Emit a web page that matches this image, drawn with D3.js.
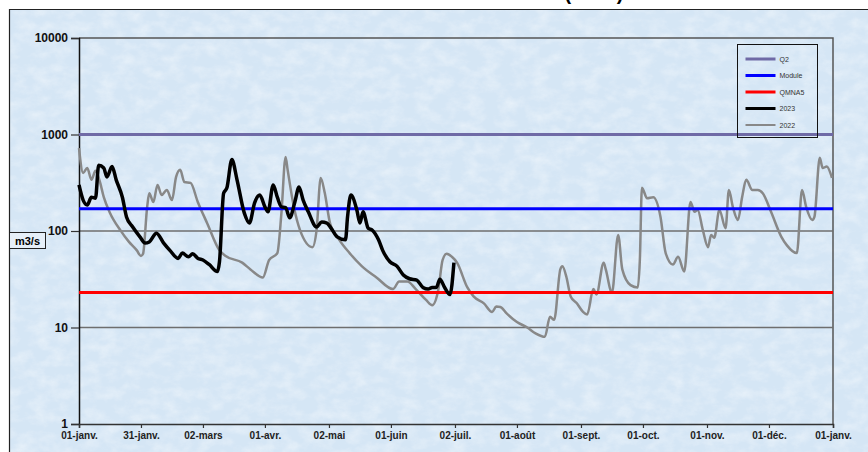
<!DOCTYPE html>
<html>
<head>
<meta charset="utf-8">
<script src="https://cdn.jsdelivr.net/npm/d3@7"></script>
<style>
  body { margin: 0; background: #fff; }
  text { font-family: "Liberation Sans", Arial, sans-serif; }
</style>
</head>
<body>
<div id="CHART"></div>
<script>
// ------------------------- data ------------------------//

var tickDays = [0, 30, 60, 90, 121, 151, 182, 212, 243, 273, 304, 334, 365];
var tickLabels = ["01-janv.", "31-janv.", "02-mars", "01-avr.", "02-mai", "01-juin", "02-juil.",
  "01-août", "01-sept.", "01-oct.", "01-nov.", "01-déc.", "01-janv."];
var yTicks = [1, 10, 100, 1000, 10000];

// reference flows (m3/s)
var q2 = 1000, module = 170, qmna5 = 23;

// 2022 daily flows
var days2022 = [0, 2, 4, 6, 8, 10, 12, 15, 20, 24, 28, 30, 31, 33, 34, 36, 38, 40, 42.5, 45,
  47, 49, 51, 54, 57.5, 62, 68, 71, 79, 83, 89, 92, 96, 98, 100, 101, 104, 107, 113, 115,
  117, 119, 121.5, 126, 131, 137, 144, 152, 155, 159, 163, 168, 171, 174, 176, 178, 180.5, 183, 188, 191,
  196, 200, 202, 204, 207, 212, 217, 221, 225.5, 228, 230, 233, 234, 236, 238, 241, 244, 246, 249, 250.5,
  254, 255, 258, 261, 263, 267, 270.5, 271.5, 272.5, 275, 278, 281.5, 284, 287.5, 290, 293, 296, 298, 299.5, 302,
  304.5, 306, 307.5, 310, 313, 314.6, 316.5, 319, 321, 323, 326, 328.6, 331, 335, 340, 342.7, 347.5, 350, 352, 355,
  356, 358.6, 360, 362, 364.5];
var flow2022 = [724, 400, 450, 340, 420, 330, 224, 154, 102, 78, 63, 55, 58, 178, 246, 200, 300, 236, 266, 209,
  363, 430, 322, 315, 200, 121, 63, 55, 47, 40, 33, 50, 59, 154, 586, 430, 178, 102, 68, 102,
  355, 246, 121, 81, 59, 43, 33, 25, 30, 30, 25, 19.3, 17, 25, 50, 58, 54, 47, 26, 21,
  17.8, 14.5, 16.5, 16.3, 14, 11.4, 10, 8.7, 8, 12.9, 12, 40, 43, 33, 21, 17.8, 14.5, 13.6, 25, 22,
  47, 40, 23, 91, 40, 27.5, 26, 50, 280, 219, 224, 140, 59, 45, 54, 38, 200, 158, 165, 102,
  68, 91, 85, 165, 107, 266, 178, 130, 224, 339, 266, 266, 246, 158, 87, 71, 59, 266, 178, 130,
  140, 573, 450, 466, 355];

// 2023 daily flows
var days2023 = [0, 2, 4, 6, 8, 9.5, 12, 13.5, 16, 18, 21, 23, 26, 29.5, 32, 34, 37.5, 41, 44, 48,
  50, 53, 55, 57.6, 60, 63, 67, 68, 70, 71.6, 74, 76.5, 80, 82.5, 85, 87.5, 90, 91.5, 94, 96,
  98, 100, 102, 104.5, 106.5, 108.5, 111, 115, 117.5, 120, 122, 125, 129, 130, 131.6, 134.5, 136, 137.5, 140, 142,
  145, 147, 150.5, 154, 157, 160, 163.5, 166.5, 169, 171, 173, 174.7, 177, 179.6, 181.5];
var flow2023 = [300, 209, 186, 224, 219, 480, 450, 363, 466, 339, 224, 140, 110, 87, 75, 77, 95, 75, 63, 52,
  59, 54, 58, 52, 50, 45, 38, 48, 246, 280, 550, 339, 154, 121, 196, 236, 178, 158, 300, 224,
  178, 175, 137, 200, 285, 209, 158, 110, 124, 121, 107, 87, 81, 140, 236, 165, 121, 158, 107, 102,
  81, 63, 48, 43, 35, 32, 31, 26, 25, 26, 26, 31.7, 26, 22, 47];

var legendNames = ["Q2", "Module", "QMNA5", "2023", "2022"];
var legendColors = ["#6f6aa6", "#0000ff", "#ff0000", "#000000", "#888888"];

// ------------------------- svg init ------------------------//

var width = 868,
  height = 452;

var svg = d3.select("#CHART").append("svg")
  .attr("width", width)
  .attr("height", height);

var defs = svg.append("defs");
var marble = defs.append("filter").attr("id", "marble")
  .attr("x", 0).attr("y", 0).attr("width", 1).attr("height", 1);
marble.append("feTurbulence")
  .attr("type", "fractalNoise")
  .attr("baseFrequency", "0.06 0.09")
  .attr("numOctaves", 4)
  .attr("seed", 11);
marble.append("feColorMatrix")
  .attr("type", "matrix")
  .attr("values", "0 0 0 0 1  0 0 0 0 1  0 0 0 0 1  0 0 0 1.6 -0.6");

// panel background
svg.append("rect")
  .attr("x", 9).attr("y", 9)
  .attr("width", width - 9).attr("height", height - 9)
  .attr("fill", "#d5e6f5");
svg.append("rect")
  .attr("x", 9).attr("y", 9)
  .attr("width", width - 9).attr("height", height - 9)
  .attr("filter", "url(#marble)")
  .attr("opacity", 0.45);
svg.append("path")
  .attr("d", "M9.5," + height + "V9.5H" + width)
  .attr("fill", "none")
  .attr("stroke", "#222")
  .attr("stroke-width", 1.2);

// cut-off title (only the bottoms of the brackets show)
svg.append("text")
  .attr("x", 594).attr("y", 0)
  .attr("text-anchor", "middle")
  .style("font-size", "20px")
  .style("font-weight", "bold")
  .text("(m3/s)");

// ------------------------- scales ------------------------//

var x = d3.scaleLinear().domain([0, 365]).range([79, 833]);
var y = d3.scaleLog().domain([1, 10000]).range([424, 38]);

// plot frame (top and right)
svg.append("path")
  .attr("d", "M" + x(0) + "," + y(10000) + "H" + x(365) + "V" + y(1))
  .attr("fill", "none")
  .attr("stroke", "#555")
  .attr("stroke-width", 1.5);

// gridlines
svg.selectAll(".grid")
  .data([10, 100, 1000])
  .enter()
  .append("line")
  .attr("class", "grid")
  .attr("x1", x(0)).attr("x2", x(365))
  .attr("y1", function (d) { return y(d); })
  .attr("y2", function (d) { return y(d); })
  .attr("stroke", "#6e6e6e")
  .attr("stroke-width", 1.5);

// ------------------------- axes ------------------------//

var yAxis = svg.append("g")
  .attr("transform", "translate(" + x(0) + ",0)")
  .call(d3.axisLeft(y)
    .tickValues(yTicks)
    .tickFormat(d3.format("d"))
    .tickSize(8)
    .tickPadding(3));
yAxis.select(".domain").attr("stroke", "#111").attr("stroke-width", 1.5);
yAxis.selectAll(".tick line").attr("stroke", "#333").attr("stroke-width", 1.2);
yAxis.selectAll("text")
  .style("font-size", "12px")
  .style("font-weight", "bold")
  .attr("fill", "#111");

var xAxis = svg.append("g")
  .attr("transform", "translate(0," + y(1) + ")")
  .call(d3.axisBottom(x)
    .tickValues(tickDays)
    .tickFormat(function (d, i) { return tickLabels[i]; })
    .tickSize(4)
    .tickPadding(4));
xAxis.select(".domain").attr("stroke", "#333").attr("stroke-width", 1.5);
xAxis.selectAll(".tick line").attr("stroke", "#333").attr("stroke-width", 1.2);
xAxis.selectAll("text")
  .style("font-size", "10px")
  .style("font-weight", "bold")
  .attr("fill", "#222");

// unit label
svg.append("rect")
  .attr("x", 9.5).attr("y", 232.5)
  .attr("width", 36).attr("height", 16)
  .attr("fill", "#e6eff8")
  .attr("stroke", "#222");
svg.append("text")
  .attr("x", 27.5).attr("y", 245)
  .attr("text-anchor", "middle")
  .style("font-size", "11px")
  .style("font-weight", "bold")
  .text("m3/s");

// ------------------------- series ------------------------//

var refLines = [
  { v: q2, color: legendColors[0], w: 3 },
  { v: module, color: legendColors[1], w: 3 },
  { v: qmna5, color: legendColors[2], w: 3 }
];

var line = d3.line()
  .x(function (d) { return x(d[0]); })
  .y(function (d) { return y(d[1]); })
  .curve(d3.curveMonotoneX);

svg.append("path")
  .datum(d3.zip(days2022, flow2022))
  .attr("d", line)
  .attr("fill", "none")
  .attr("stroke", legendColors[4])
  .attr("stroke-width", 2.5)
  .attr("stroke-linejoin", "round");

svg.selectAll(".ref")
  .data(refLines)
  .enter()
  .append("line")
  .attr("class", "ref")
  .attr("x1", x(0)).attr("x2", x(365))
  .attr("y1", function (d) { return y(d.v); })
  .attr("y2", function (d) { return y(d.v); })
  .attr("stroke", function (d) { return d.color; })
  .attr("stroke-width", function (d) { return d.w; });

svg.append("path")
  .datum(d3.zip(days2023, flow2023))
  .attr("d", line)
  .attr("fill", "none")
  .attr("stroke", legendColors[3])
  .attr("stroke-width", 3.5)
  .attr("stroke-linejoin", "round");

// ------------------------- legend ------------------------//

var legend = svg.append("g").attr("transform", "translate(737.5,44.5)");
legend.append("rect")
  .attr("width", 80).attr("height", 93)
  .attr("fill", "none")
  .attr("stroke", "#111");

var item = legend.selectAll(".item")
  .data(legendNames)
  .enter()
  .append("g")
  .attr("class", "item")
  .attr("transform", function (d, i) { return "translate(0," + (14.5 + i * 16.5) + ")"; });
item.append("line")
  .attr("x1", 8).attr("x2", 38)
  .attr("stroke", function (d, i) { return legendColors[i]; })
  .attr("stroke-width", function (d, i) { return i == 4 ? 2 : 3; });
item.append("text")
  .attr("x", 42).attr("y", 2.5)
  .style("font-size", "7px")
  .attr("fill", "#333")
  .text(function (d) { return d; });
</script>
</body>
</html>
